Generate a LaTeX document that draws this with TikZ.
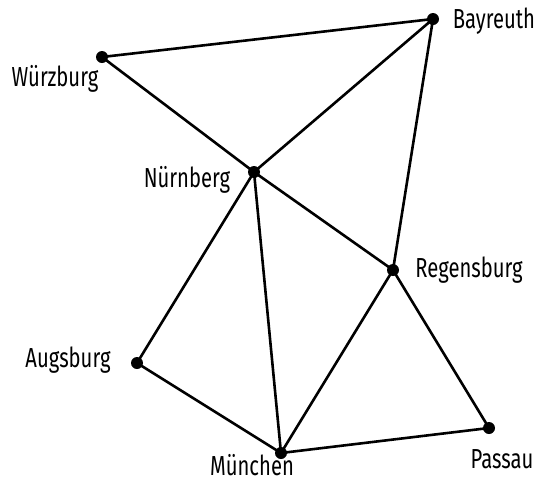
\documentclass[tikz,border=0pt]{standalone}
\usepackage{fontspec}
\setmainfont{Fira Sans}
\newcommand{\tallword}[1]{\scalebox{0.92}[1.25]{#1}}
\begin{document}
\begin{tikzpicture}[x=1pt,y=-1pt,
  city/.style={circle,fill=black,inner sep=0pt,minimum size=12pt},
  lbl/.style={font=\fontsize{22}{24}\selectfont,inner sep=0pt},
  edge/.style={line width=2.6pt,line cap=round}]
\useasboundingbox (0,0) rectangle (542,483);
\node[city] (wu) at (102,57) {};
\node[city] (ba) at (433,19) {};
\node[city] (nu) at (254,172) {};
\node[city] (re) at (393,270) {};
\node[city] (au) at (137,363) {};
\node[city] (mu) at (281,453) {};
\node[city] (pa) at (489,428) {};
\node[lbl] (lwu) at (55,79) {\tallword{Würzburg}};
\node[lbl] (lba) at (494,21) {\tallword{Bayreuth}};
\node[lbl] (lnu) at (187,180) {\tallword{Nürnberg}};
\node[lbl] (lre) at (469,270) {\tallword{Regensburg}};
\node[lbl] (lau) at (68,360) {\tallword{Augsburg}};
\node[lbl] (lmu) at (252,465) {\tallword{München}};
\node[lbl] (lpa) at (502,459) {\tallword{Passau}};
\draw[edge] (wu.center) -- (ba.center);
\draw[edge] (wu.center) -- (nu.center);
\draw[edge] (nu.center) -- (ba.center);
\draw[edge] (nu.center) -- (re.center);
\draw[edge] (ba.center) -- (re.center);
\draw[edge] (nu.center) -- (au.center);
\draw[edge] (nu.center) -- (mu.center);
\draw[edge] (au.center) -- (mu.center);
\draw[edge] (re.center) -- (mu.center);
\draw[edge] (re.center) -- (pa.center);
\draw[edge] (mu.center) -- (pa.center);
\end{tikzpicture}
\end{document}
